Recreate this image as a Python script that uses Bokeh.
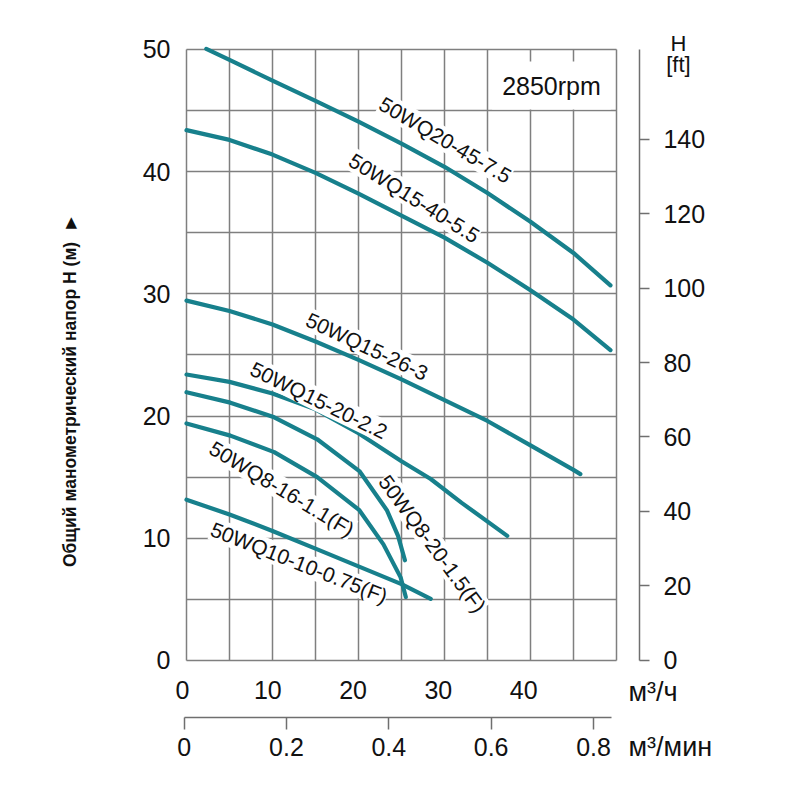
from bokeh.plotting import figure
from bokeh.models import Range1d, LinearAxis, FixedTicker, Label, NumeralTickFormatter, ColumnDataSource
from bokeh.embed import file_html
from bokeh.resources import INLINE

# ---------------- data ----------------
flow_ticks = [0, 10, 20, 30, 40]               # m3/h
flow_min_ticks = [0, 0.2, 0.4, 0.6, 0.8]       # m3/min
head_ticks = [0, 10, 20, 30, 40, 50]           # m
ft_ticks = [0, 20, 40, 60, 80, 100, 120, 140]  # ft
grid_ticks = [0, 5, 10, 15, 20, 25, 30, 35, 40, 45, 50]

names = ["50WQ20-45-7.5", "50WQ15-40-5.5", "50WQ15-26-3", "50WQ15-20-2.2",
         "50WQ8-20-1.5(F)", "50WQ8-16-1.1(F)", "50WQ10-10-0.75(F)"]

q_20_45 = [2.3, 5, 10, 15, 20, 25, 30, 35, 40, 45, 49.3]
h_20_45 = [50.05, 49.15, 47.45, 45.8, 44.1, 42.3, 40.4, 38.25, 35.9, 33.35, 30.7]

q_15_40 = [0, 5, 10, 15, 20, 25, 30, 35, 40, 45, 49.3]
h_15_40 = [43.4, 42.6, 41.4, 39.9, 38.2, 36.4, 34.6, 32.55, 30.3, 27.9, 25.4]

q_15_26 = [0, 5, 10, 15, 20, 25, 30, 35, 40, 45, 45.8]
h_15_26 = [29.45, 28.6, 27.5, 26.1, 24.6, 23.0, 21.3, 19.6, 17.6, 15.6, 15.25]

q_15_20 = [0, 5, 10, 15, 20, 25, 28.4, 32, 37.3]
h_15_20 = [23.4, 22.8, 21.85, 20.55, 18.6, 16.3, 14.85, 12.9, 10.2]

q_8_20 = [0, 5.1, 10.2, 15.2, 20.1, 23.3, 24.6, 25.4]
h_8_20 = [21.95, 21.1, 19.9, 18.1, 15.5, 12.3, 10.2, 8.2]

q_8_16 = [0, 5.1, 10.2, 15.2, 20.1, 22.9, 24.9, 25.5]
h_8_16 = [19.4, 18.4, 17.05, 15.0, 12.3, 9.5, 6.8, 5.2]

q_10_10 = [0, 5, 10, 15, 20, 25, 28.4]
h_10_10 = [13.15, 11.95, 10.6, 9.15, 7.7, 6.25, 5.05]

series_q = [q_20_45, q_15_40, q_15_26, q_15_20, q_8_20, q_8_16, q_10_10]
series_h = [h_20_45, h_15_40, h_15_26, h_15_20, h_8_20, h_8_16, h_10_10]

# label placement (centre, data units) and rotation (deg)
label_pos = {
    "50WQ20-45-7.5": (30.1, 42.6, -30.5),
    "50WQ15-40-5.5": (26.5, 37.85, -32),
    "50WQ15-26-3": (21.0, 25.7, -25),
    "50WQ15-20-2.2": (15.4, 21.3, -26),
    "50WQ8-20-1.5(F)": (28.6, 9.55, -53.5),
    "50WQ8-16-1.1(F)": (11.1, 14.05, -31),
    "50WQ10-10-0.75(F)": (13.1, 8.0, -21.5),
}

M_PER_FT = 0.3048
CURVE = "#17808c"
GRID = "#7f7f7f"
AXIS = "#6f6f6f"
INK = "#111111"
FONT = "Liberation Sans"
TICK_FS = "25px"

# the frame covers the whole canvas; axes are pinned with fixed_location
p = figure(width=800, height=800, output_backend="svg", toolbar_location=None,
           x_range=Range1d(-21.63, 71.40), y_range=Range1d(-11.46, 54.01),
           min_border=0, min_border_left=0, min_border_right=0,
           min_border_top=0, min_border_bottom=0)
p.background_fill_color = "white"
p.border_fill_color = "white"
p.outline_line_color = None

p.extra_y_ranges = {"ft": Range1d(-11.46 / M_PER_FT, 54.01 / M_PER_FT)}
# the printed scales are drawn slightly compressed in the original
p.extra_x_ranges = {"min": Range1d(-0.3588, 1.2045), "lab": Range1d(-21.34, 72.46)}

# ---------------- grid (box 0..50 x 0..50) ----------------
xg = p.xgrid[0]
yg = p.ygrid[0]
xg.ticker = FixedTicker(ticks=grid_ticks)
yg.ticker = FixedTicker(ticks=grid_ticks)
grid_ok = True
try:
    xg.bounds = (grid_ticks[0], grid_ticks[-1])
    yg.bounds = (grid_ticks[0], grid_ticks[-1])
    xg.cross_bounds = (grid_ticks[0], grid_ticks[-1])
    yg.cross_bounds = (grid_ticks[0], grid_ticks[-1])
except Exception:
    grid_ok = False
for g in (xg, yg):
    g.grid_line_color = GRID
    g.grid_line_width = 1.5
if not grid_ok:
    xg.visible = False
    yg.visible = False
    n = len(grid_ticks)
    lo, hi = grid_ticks[0], grid_ticks[-1]
    p.segment(x0=grid_ticks, y0=[lo] * n, x1=grid_ticks, y1=[hi] * n, line_color=GRID, line_width=1.5)
    p.segment(x0=[lo] * n, y0=grid_ticks, x1=[hi] * n, y1=grid_ticks, line_color=GRID, line_width=1.5)

# ---------------- left axis (m) ----------------
ya = p.yaxis[0]
ya.fixed_location = 0
ya.bounds = (0, 50)
ya.ticker = FixedTicker(ticks=head_ticks)
ya.axis_line_color = None
ya.major_tick_line_color = None
ya.minor_tick_line_color = None
ya.major_tick_out = 0
ya.major_tick_in = 0
ya.major_label_standoff = 16
ya.major_label_text_font = FONT
ya.major_label_text_font_size = TICK_FS
ya.major_label_text_color = INK

# ---------------- bottom axis (m3/h) ----------------
xa = p.xaxis[0]
xa.x_range_name = "lab"
xa.fixed_location = 0
xa.bounds = (0, 50)
xa.ticker = FixedTicker(ticks=flow_ticks)
xa.axis_line_color = None
xa.major_tick_line_color = None
xa.minor_tick_line_color = None
xa.major_tick_out = 0
xa.major_tick_in = 0
xa.major_label_standoff = 21
xa.major_label_text_font = FONT
xa.major_label_text_font_size = TICK_FS
xa.major_label_text_color = INK

# ---------------- second bottom axis (m3/min) ----------------
xa2 = LinearAxis(x_range_name="min", ticker=FixedTicker(ticks=flow_min_ticks),
                 formatter=NumeralTickFormatter(format="0.[0]"))
xa2.fixed_location = -4.66
xa2.bounds = (0, 0.835)
xa2.axis_line_color = AXIS
xa2.axis_line_width = 1.5
xa2.major_tick_line_color = AXIS
xa2.major_tick_line_width = 1.5
xa2.major_tick_out = 12
xa2.major_tick_in = 0
xa2.minor_tick_line_color = None
xa2.major_label_standoff = 9
xa2.major_label_text_font = FONT
xa2.major_label_text_font_size = TICK_FS
xa2.major_label_text_color = INK
p.add_layout(xa2, "below")

# ---------------- right axis (ft) ----------------
fa = LinearAxis(y_range_name="ft", ticker=FixedTicker(ticks=ft_ticks))
fa.fixed_location = 52.67
fa.bounds = (0, 50 / M_PER_FT)
fa.axis_line_color = AXIS
fa.axis_line_width = 1.5
fa.major_tick_line_color = AXIS
fa.major_tick_line_width = 1.5
fa.major_tick_out = 10
fa.major_tick_in = 0
fa.minor_tick_line_color = None
fa.major_label_standoff = 14
fa.major_label_text_font = FONT
fa.major_label_text_font_size = TICK_FS
fa.major_label_text_color = INK
p.add_layout(fa, "right")

# ---------------- curves ----------------
for q, h in zip(series_q, series_h):
    src = ColumnDataSource(data=dict(q=q, h=h))
    p.line("q", "h", source=src, line_color=CURVE, line_width=4.2, line_cap="round", line_join="round")

# ---------------- curve labels ----------------
for name in names:
    lx, ly, ang = label_pos[name]
    p.add_layout(Label(x=lx, y=ly, text=name, angle=ang, angle_units="deg",
                       text_align="center", text_baseline="middle",
                       text_font=FONT, text_font_size="21px", text_color=INK,
                       background_fill_color="white", background_fill_alpha=1.0))

# rpm note
p.add_layout(Label(x=42.44, y=47.05, text="2850rpm", text_align="center", text_baseline="middle",
                   text_font=FONT, text_font_size="25px", text_color=INK,
                   background_fill_color="white", padding=10))

# unit labels
p.add_layout(Label(x=51.4, y=-2.62, text="м³/ч", text_align="left", text_baseline="middle",
                   text_font=FONT, text_font_size="27px", text_color=INK))
p.add_layout(Label(x=51.4, y=-7.12, text="м³/мин", text_align="left", text_baseline="middle",
                   text_font=FONT, text_font_size="27px", text_color=INK))
p.add_layout(Label(x=57.2, y=50.5, text="H", text_align="center", text_baseline="middle",
                   text_font=FONT, text_font_size="22px", text_color=INK))
p.add_layout(Label(x=57.2, y=48.8, text="[ft]", text_align="center", text_baseline="middle",
                   text_font=FONT, text_font_size="22px", text_color=INK))

# vertical axis title
p.add_layout(Label(x=-13.6, y=20.95, text="Общий манометрический напор H (м)", angle=90, angle_units="deg",
                   text_align="center", text_baseline="middle",
                   text_font=FONT, text_font_size="17.5px", text_font_style="bold", text_color=INK))
p.add_layout(Label(x=-13.4, y=35.9, text="▲", text_align="center", text_baseline="middle",
                   text_font="DejaVu Sans", text_font_size="15px", text_color=INK))

open("out.html", "w").write(file_html(p, INLINE))
